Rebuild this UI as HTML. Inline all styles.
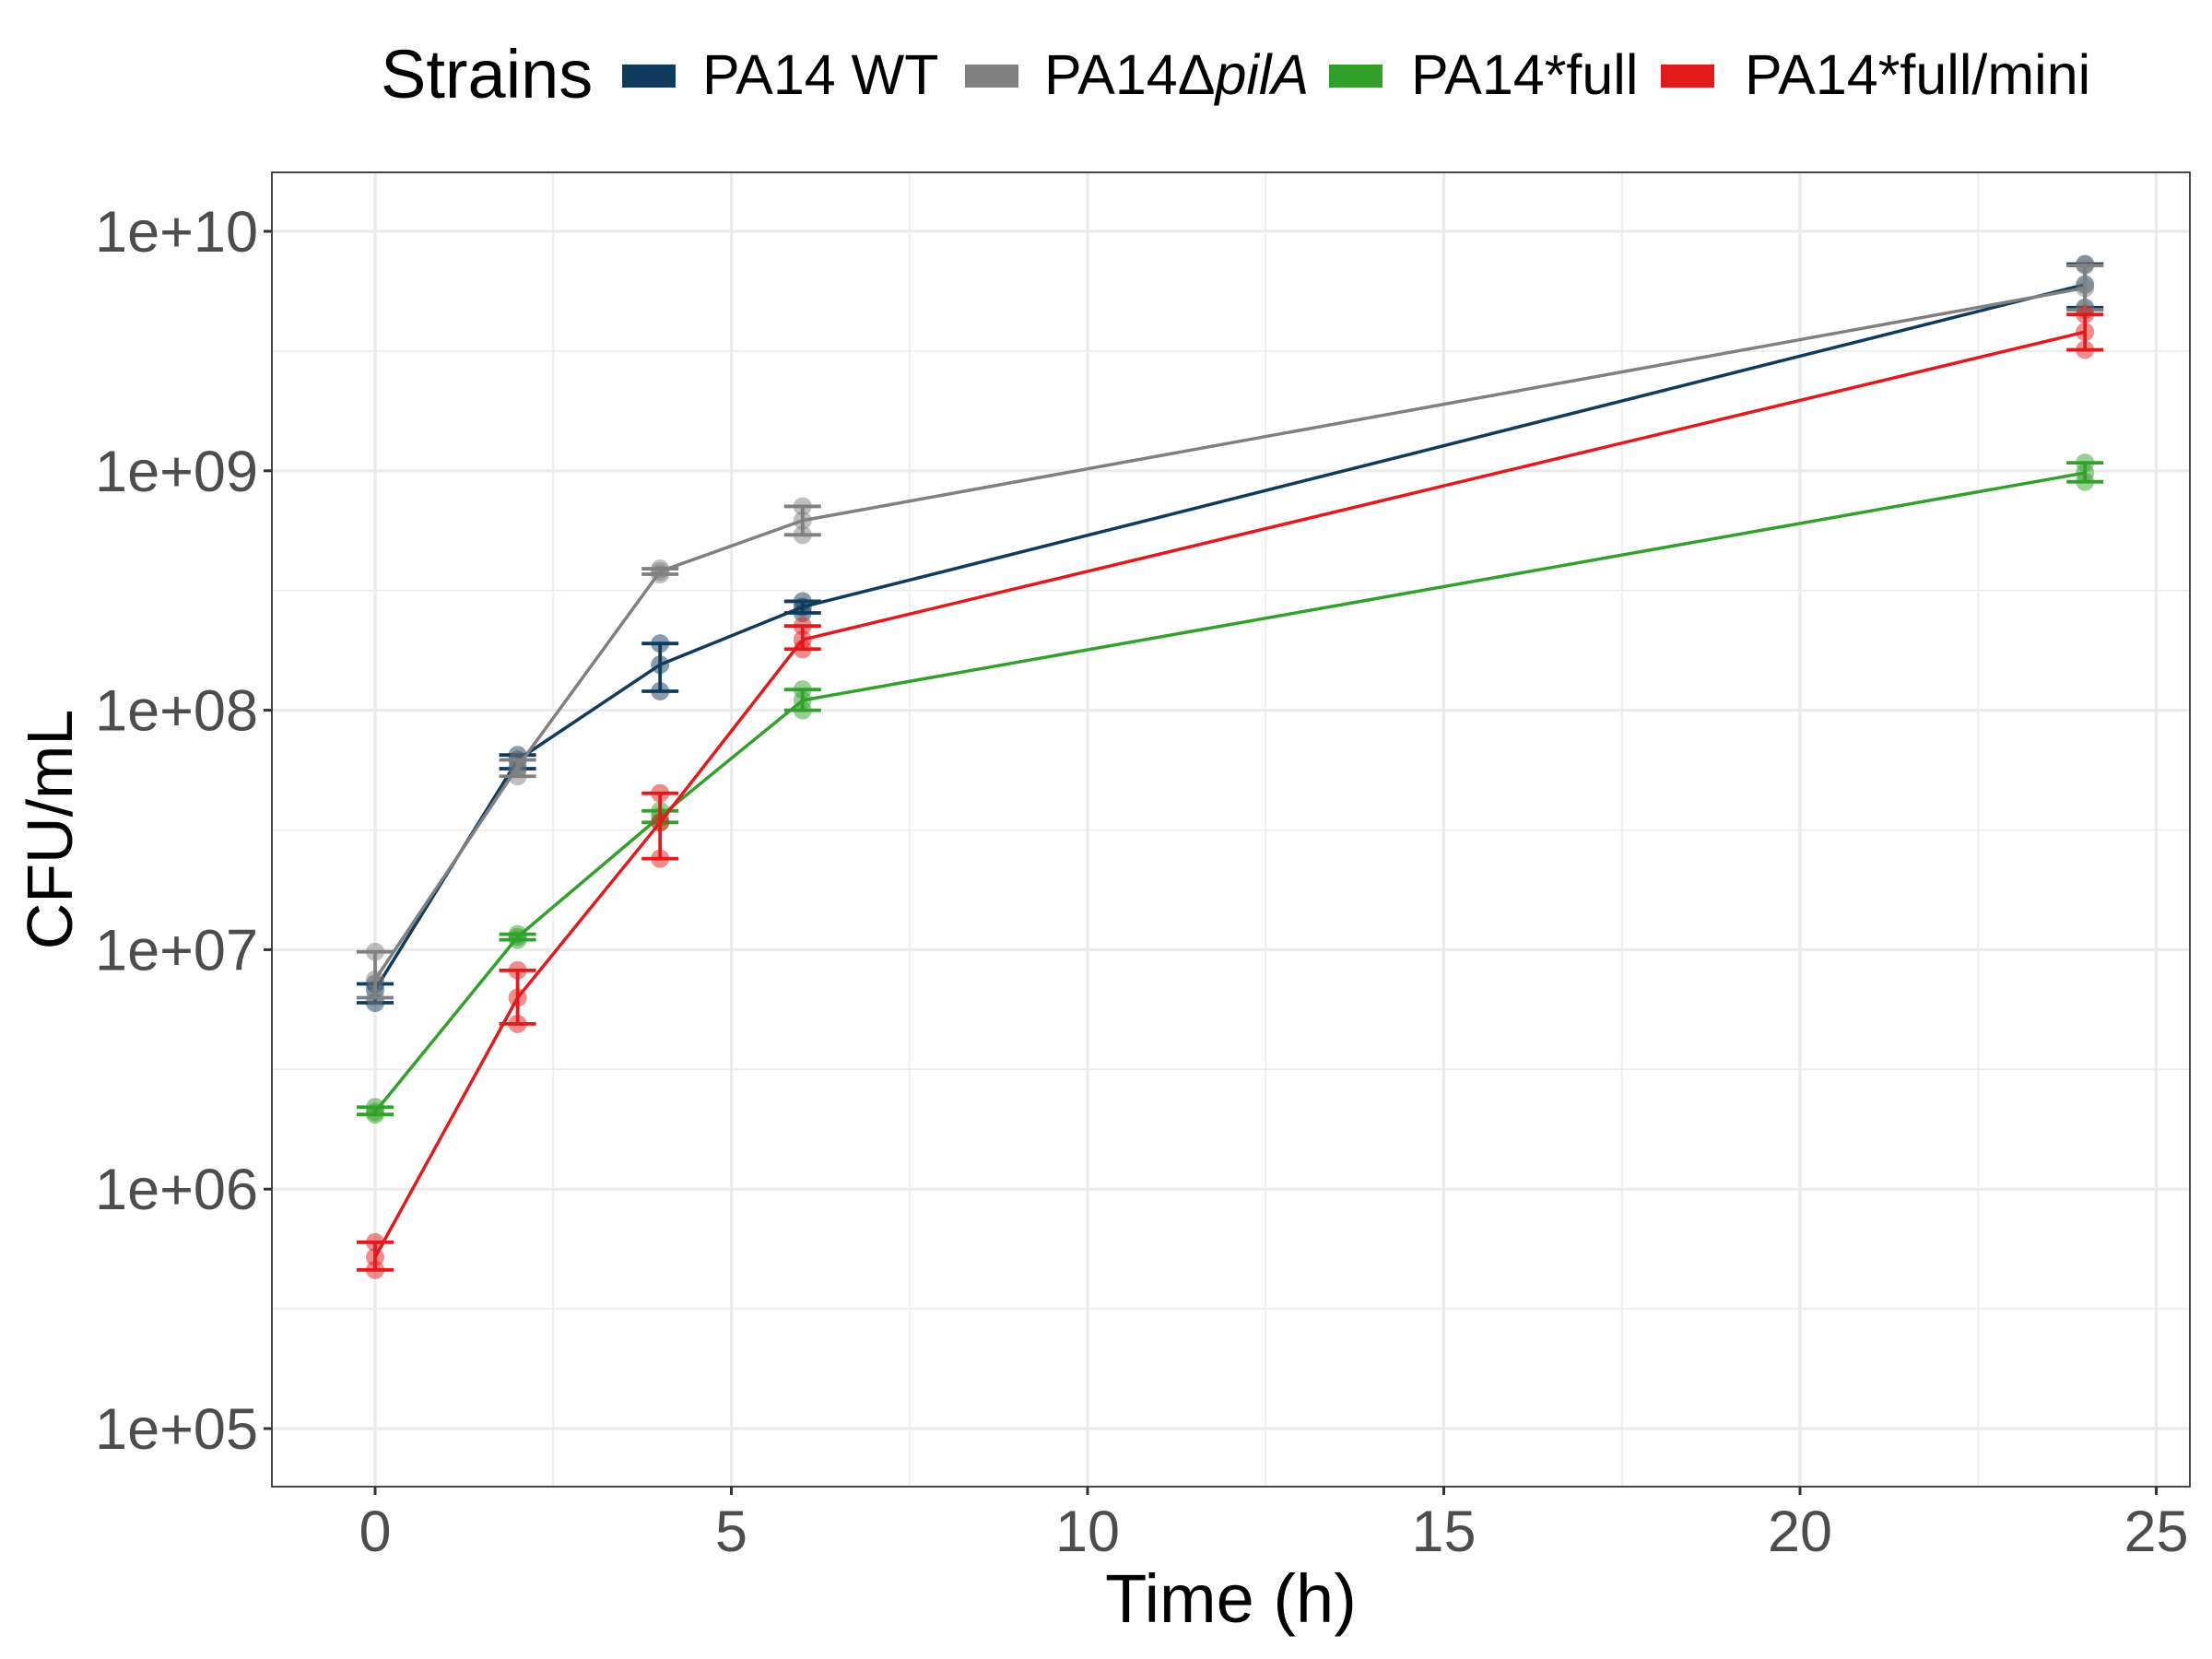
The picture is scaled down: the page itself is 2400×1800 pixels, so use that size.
<!DOCTYPE html>
<html><head><meta charset="utf-8"><style>
html,body{margin:0;padding:0;background:#fff;}
svg{display:block;font-family:"Liberation Sans",Arial,sans-serif;}
</style></head><body>
<svg id="chart" width="2400" height="1800" viewBox="0 0 2400 1800" xmlns="http://www.w3.org/2000/svg"></svg>
<script>
const times = [0, 2, 4, 6, 24];
const seriesNames = ["PA14 WT", "PA14ΔpilA", "PA14*full", "PA14*full/mini"];
const wtMean = [6.8e6, 6.2e7, 1.55e8, 2.7e8, 6.0e9];
const wtLo = [6.0e6, 5.7e7, 1.2e8, 2.55e8, 4.8e9];
const wtHi = [7.2e6, 6.5e7, 1.9e8, 2.85e8, 7.3e9];
const pilMean = [7.5e6, 5.8e7, 3.8e8, 6.2e8, 5.8e9];
const pilLo = [6.3e6, 5.3e7, 3.7e8, 5.4e8, 4.7e9];
const pilHi = [9.8e6, 6.2e7, 3.9e8, 7.1e8, 7.2e9];
const fullMean = [2.1e6, 1.13e7, 3.6e7, 1.1e8, 9.8e8];
const fullLo = [2.05e6, 1.1e7, 3.4e7, 1.0e8, 9.0e8];
const fullHi = [2.2e6, 1.16e7, 3.8e7, 1.22e8, 1.08e9];
const miniMean = [5.2e5, 6.3e6, 3.4e7, 1.97e8, 3.8e9];
const miniLo = [4.6e5, 4.9e6, 2.4e7, 1.8e8, 3.2e9];
const miniHi = [6.0e5, 8.2e6, 4.5e7, 2.25e8, 4.5e9];
const xTicks = [0, 5, 10, 15, 20, 25];
const xMinor = [2.5, 7.5, 12.5, 17.5, 22.5];
const yTicks = [1e5, 1e6, 1e7, 1e8, 1e9, 1e10];
const yTickLabels = ["1e+05", "1e+06", "1e+07", "1e+08", "1e+09", "1e+10"];

const NS = "http://www.w3.org/2000/svg";
const svg = document.getElementById("chart");
const P = {l:295, r:2376, t:187, b:1613};
const X = v => 407 + v * 77.3;
const Y = v => 251 + (10 - Math.log10(v)) * 259.8;
function mk(tag, attrs, parent){ const e=document.createElementNS(NS,tag); for(const k in attrs) e.setAttribute(k,attrs[k]); (parent||svg).appendChild(e); return e; }

const bg = mk("rect",{x:P.l,y:P.t,width:P.r-P.l,height:P.b-P.t,fill:"#fff"});


const gGrid = mk("g",{});


xMinor.forEach(v=>{ mk("line",{x1:X(v),x2:X(v),y1:P.t,y2:P.b,stroke:"#ebebeb","stroke-width":1.6},gGrid); });
yTicks.forEach(v=>{ const yy=Y(v*Math.sqrt(10)); if(yy>P.t&&yy<P.b) mk("line",{x1:P.l,x2:P.r,y1:yy,y2:yy,stroke:"#ebebeb","stroke-width":1.6},gGrid); });
const lowMinor = Y(1e5/Math.sqrt(10)); if(lowMinor<P.b) mk("line",{x1:P.l,x2:P.r,y1:lowMinor,y2:lowMinor,stroke:"#ebebeb","stroke-width":1.6},gGrid);
xTicks.forEach(v=>{ mk("line",{x1:X(v),x2:X(v),y1:P.t,y2:P.b,stroke:"#ebebeb","stroke-width":3.2},gGrid); });
yTicks.forEach(v=>{ mk("line",{x1:P.l,x2:P.r,y1:Y(v),y2:Y(v),stroke:"#ebebeb","stroke-width":3.2},gGrid); });

const series = [
 {name:seriesNames[0], color:"#0f3b5c", mean:wtMean, lo:wtLo, hi:wtHi, key:"wt"},
 {name:seriesNames[1], color:"#808080", mean:pilMean, lo:pilLo, hi:pilHi, key:"pila"},
 {name:seriesNames[2], color:"#33a02c", mean:fullMean, lo:fullLo, hi:fullHi, key:"full"},
 {name:seriesNames[3], color:"#e31a1c", mean:miniMean, lo:miniLo, hi:miniHi, key:"full-mini"}
];
series.forEach(s=>{
  const g = mk("g",{});
  
  
  times.forEach((t,i)=>{
    [s.lo[i], s.mean[i], s.hi[i]].forEach(v=>{
      const c = mk("circle",{cx:X(t),cy:Y(v),r:10,fill:s.color,"fill-opacity":0.5},g);
      
      
    });
  });
  const pl = mk("polyline",{points:times.map((t,i)=>X(t)+","+Y(s.mean[i])).join(" "),fill:"none",stroke:s.color,"stroke-width":3.5},g);
  
  
  times.forEach((t,i)=>{
    const eb = mk("g",{stroke:s.color,"stroke-width":3.8},g);
    
    
    const x=X(t), y1=Y(s.hi[i]), y2=Y(s.lo[i]);
    mk("line",{x1:x,x2:x,y1:y1,y2:y2},eb);
    mk("line",{x1:x-20,x2:x+20,y1:y1,y2:y1},eb);
    mk("line",{x1:x-20,x2:x+20,y1:y2,y2:y2},eb);
  });
});

const border = mk("rect",{x:P.l,y:P.t,width:P.r-P.l,height:P.b-P.t,fill:"none",stroke:"#333","stroke-width":1.8});



const gx = mk("g",{});


xTicks.forEach(v=>{
  mk("line",{x1:X(v),x2:X(v),y1:P.b,y2:P.b+9,stroke:"#333","stroke-width":3},gx);
  const t = mk("text",{x:X(v),y:1683,"text-anchor":"middle","font-size":63,fill:"#4d4d4d"},gx);
  t.textContent = v;
  
  
});
const gy = mk("g",{});


yTicks.forEach((v,i)=>{
  mk("line",{x1:P.l-9,x2:P.l,y1:Y(v),y2:Y(v),stroke:"#333","stroke-width":3},gy);
  const t = mk("text",{x:P.l-15,y:Y(v)+22,"text-anchor":"end","font-size":63,fill:"#4d4d4d"},gy);
  t.textContent = yTickLabels[i];
  
  
});
const xt = mk("text",{x:(P.l+P.r)/2,y:1760,"text-anchor":"middle","font-size":74,fill:"#000"});
xt.textContent = "Time (h)";


const yt = mk("text",{x:0,y:0,"text-anchor":"middle","font-size":70,fill:"#000",transform:"translate(78,"+((P.t+P.b)/2)+") rotate(-90)"});
yt.textContent = "CFU/mL";



const lg = mk("g",{});


const lt = mk("text",{x:413,y:106,"font-size":74,fill:"#000"},lg);
lt.textContent = "Strains";


const keyX = [675, 1047, 1442, 1802];
const textX = [762, 1133, 1531, 1893];
series.forEach((s,i)=>{
  const e = mk("g",{},lg);
  
  
  mk("rect",{x:keyX[i],y:70,width:58,height:25,fill:s.color},e);
  const t = mk("text",{x:textX[i],y:102,"font-size":61,fill:"#000"},e);
  if(i===1){
    t.appendChild(document.createTextNode("PA14Δ"));
    const ts = document.createElementNS(NS,"tspan"); ts.setAttribute("font-style","italic"); ts.textContent="pilA"; t.appendChild(ts);
  } else t.textContent = s.name;
});
</script>
</body></html>
